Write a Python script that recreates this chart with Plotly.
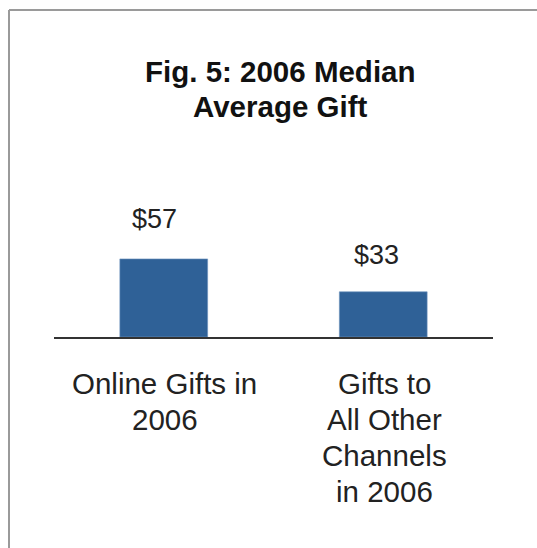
import plotly.graph_objects as go

categories = ["Online Gifts in 2006", "Gifts to All Other Channels in 2006"]
label_lines = [["Online Gifts in", "2006"], ["Gifts to", "All Other", "Channels", "in 2006"]]
values = [57, 33]
value_labels = ["$57", "$33"]
title_lines = ["Fig. 5: 2006 Median", "Average Gift"]

W, H = 537, 548
plot_l, plot_r = 54, 493
plot_b, plot_t = 337, 200
ph = plot_b - plot_t

FONT = "Liberation Sans, Arial, sans-serif"

fig = go.Figure()
fig.add_trace(go.Bar(
    x=list(range(len(categories))), y=values,
    marker=dict(color="#2F6197", line=dict(color="#6F93BD", width=0.6)),
    width=0.4, hoverinfo="skip", showlegend=False,
))

ann = []
# value labels
val_shift = [[-9, 40], [-7, 37]]
for i, (v, t) in enumerate(zip(values, value_labels)):
    ann.append(dict(x=i, y=v, xref="x", yref="y", text=t, showarrow=False,
                    xshift=val_shift[i][0], yshift=val_shift[i][1],
                    yanchor="middle", font=dict(family=FONT, size=27, color="#222222")))
# category labels
for i, lines in enumerate(label_lines):
    for j, ln in enumerate(lines):
        ann.append(dict(x=i, y=0, xref="x", yref="y", text=ln, showarrow=False,
                        yshift=-(46 + 36 * j), yanchor="middle", xshift=1,
                        font=dict(family=FONT, size=29.5, color="#222222")))
# title
for j, ln in enumerate(title_lines):
    py = 71 + 35 * j
    ann.append(dict(x=(280 - plot_l) / (plot_r - plot_l), y=(plot_b - py) / ph,
                    xref="paper", yref="paper", text="<b>" + ln + "</b>", showarrow=False,
                    yanchor="middle", xanchor="center",
                    font=dict(family=FONT, size=29.5, color="#111111")))

bx = (9 - plot_l) / (plot_r - plot_l)
by = (plot_b - 10) / ph
border = dict(color="#9A9A9A", width=2)

fig.update_layout(
    width=W, height=H,
    margin=dict(l=plot_l, r=W - plot_r, t=plot_t, b=H - plot_b, pad=0),
    paper_bgcolor="white", plot_bgcolor="white",
    xaxis=dict(range=[-0.5, 1.5], showticklabels=False, showgrid=False, zeroline=False,
               showline=True, linecolor="#333333", linewidth=2, ticks=""),
    yaxis=dict(range=[0, 100], visible=False, showgrid=False, zeroline=False),
    annotations=ann,
    shapes=[
        dict(type="line", xref="paper", yref="paper", x0=bx, x1=1.2, y0=by, y1=by,
             line=border, layer="below"),
        dict(type="line", xref="paper", yref="paper", x0=bx, x1=bx, y0=by, y1=-2,
             line=border, layer="below"),
    ],
)

fig.write_html("out.html", config={"displayModeBar": False, "staticPlot": True},
               post_script="document.body.style.margin='0';document.body.style.overflow='hidden';")
